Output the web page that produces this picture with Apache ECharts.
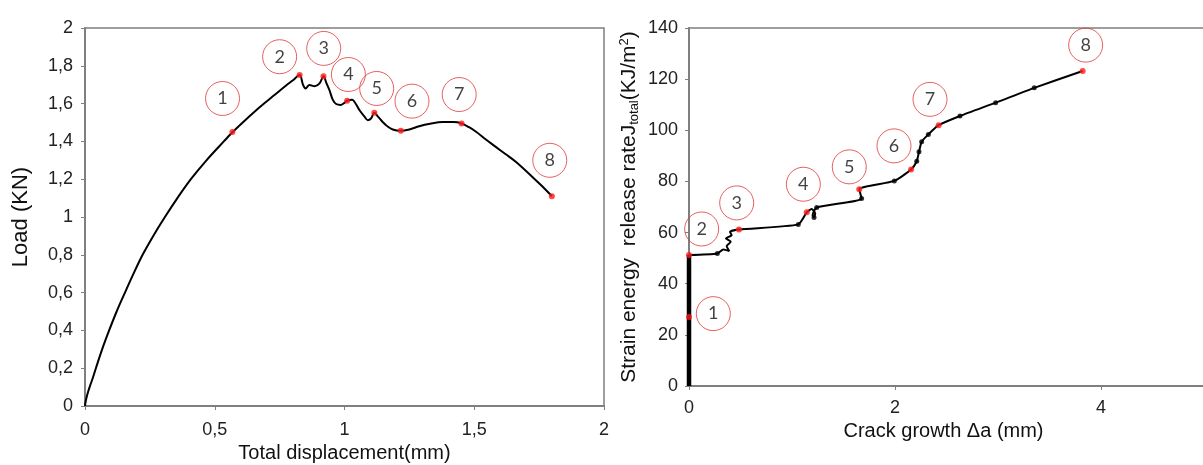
<!DOCTYPE html>
<html>
<head>
<meta charset="utf-8">
<script src="https://cdn.jsdelivr.net/npm/echarts@6/dist/echarts.min.js"></script>
<style>
html,body{margin:0;padding:0;background:#fff;}
#c{width:1203px;height:465px;}
</style>
</head>
<body>
<div id="c"></div>
<script>
// ---- Left chart: Load vs total displacement ----
const loadX = [0,0.002,0.006,0.012,0.019,0.028,0.042,0.066,0.093,0.122,0.154,0.187,0.222,0.263,0.308,0.356,0.408,0.468,0.535,0.568,0.61,0.65,0.69,0.73,0.776,0.80,0.827,0.840,0.850,0.865,0.885,0.904,0.919,0.930,0.942,0.955,0.968,0.985,1.0,1.010,1.03,1.045,1.058,1.075,1.090,1.102,1.115,1.13,1.147,1.165,1.186,1.215,1.25,1.288,1.33,1.378,1.42,1.451,1.48,1.507,1.545,1.583,1.62,1.660,1.724,1.76,1.799];
const loadY = [0,0.02,0.045,0.075,0.105,0.14,0.2,0.3,0.4,0.5,0.6,0.7,0.8,0.9,1.0,1.1,1.2,1.3,1.4,1.448,1.503,1.553,1.600,1.645,1.697,1.722,1.751,1.70,1.680,1.698,1.692,1.707,1.745,1.71,1.671,1.62,1.598,1.593,1.604,1.615,1.620,1.595,1.565,1.535,1.512,1.521,1.551,1.53,1.503,1.48,1.463,1.456,1.463,1.480,1.493,1.502,1.502,1.495,1.475,1.451,1.41,1.371,1.333,1.292,1.212,1.165,1.110];
const loadMarkX = [0.568,0.827,0.919,1.010,1.115,1.217,1.451,1.799];
const loadMarkY = [1.450,1.751,1.745,1.615,1.551,1.456,1.495,1.110];
const loadTagX = [0.53,0.75,0.92,1.015,1.124,1.26,1.442,1.791];
const loadTagY = [1.627,1.848,1.892,1.754,1.680,1.613,1.648,1.30];
const stageLabels = ['1','2','3','4','5','6','7','8'];

// ---- Right chart: J vs crack growth ----
const initX = [0,0];
const initY = [0,51.2];
const crackX = [0,0.275,0.333,0.391,0.366,0.405,0.359,0.414,0.398,0.485,1.061,1.143,1.19,1.225,1.214,1.20,1.24,1.676,1.653,1.993,2.156,2.211,2.233,2.259,2.324,2.424,2.631,2.977,3.352,3.822];
const jY     = [51.2,51.8,53.4,52.8,54.7,56.4,57.7,59.0,60.3,61.2,63.2,67.9,69.2,67.5,65.9,66.8,69.8,73.3,76.9,80.2,84.7,87.9,91.6,95.5,98.4,102.0,105.6,110.8,116.6,123.2];
const dotX = [0.275,1.061,1.214,1.24,1.676,1.993,2.211,2.233,2.259,2.324,2.631,2.977,3.352];
const dotY = [51.8,63.2,65.9,69.8,73.3,80.2,87.9,91.6,95.5,98.4,105.6,110.8,116.6];
const jMarkX = [0,0,0.485,1.143,1.653,2.156,2.424,3.822];
const jMarkY = [27.0,51.2,61.2,67.9,76.9,84.7,102.0,123.2];
const jTagX = [0.236,0.123,0.463,1.110,1.556,1.990,2.340,3.851];
const jTagY = [28.3,61.4,71.6,78.9,85.7,93.9,112.1,133.3];

const zip = (a, b) => a.map((v, i) => [v, b[i]]);
const tagData = (a, b) => a.map((v, i) => ({value: [v, b[i]], name: stageLabels[i]}));

const axisColor = '#7f7f7f';
const labelFont = 'Liberation Sans, Arial, sans-serif';
const tickLabel = {color: '#222', fontSize: 18, fontFamily: labelFont};
const comma = v => String(v).replace('.', ',');

function tagSeries(xi, yi, data) {
  return {
    type: 'scatter', xAxisIndex: xi, yAxisIndex: yi, data: data, clip: false, z: 5,
    symbol: 'circle', symbolSize: 34,
    itemStyle: {color: 'rgba(255,255,255,0)', borderColor: '#e0383a', borderWidth: 1},
    label: {show: true, position: 'inside', formatter: p => p.name, color: '#111', fontSize: 18, fontFamily: 'Lato, Noto Sans, sans-serif'},
    emphasis: {disabled: true}
  };
}

const chart = echarts.init(document.getElementById('c'), null, {renderer: 'canvas'});
chart.setOption({
  animation: false,
  backgroundColor: '#fff',
  grid: [
    {left: 85, top: 28, width: 519, height: 378, containLabel: false, outerBoundsMode: 'none', show: true, borderColor: axisColor, borderWidth: 1.5, backgroundColor: 'transparent'},
    {left: 689, top: 28, width: 515, height: 358, containLabel: false, outerBoundsMode: 'none', show: true, borderColor: axisColor, borderWidth: 1.5, backgroundColor: 'transparent'}
  ],
  xAxis: [
    {gridIndex: 0, type: 'value', min: 0, max: 2, interval: 0.5,
     axisLine: {lineStyle: {color: axisColor, width: 2}}, axisTick: {show: true, length: 4, lineStyle: {color: axisColor}},
     splitLine: {show: false}, axisLabel: Object.assign({margin: 15, formatter: comma}, tickLabel),
     name: 'Total displacement(mm)', nameLocation: 'middle', nameGap: 37,
     nameTextStyle: {color: '#111', fontSize: 20, fontFamily: labelFont}},
    {gridIndex: 1, type: 'value', min: 0, max: 5, interval: 2,
     axisLine: {lineStyle: {color: axisColor, width: 2}}, axisTick: {show: true, length: 4, lineStyle: {color: axisColor}},
     splitLine: {show: false}, axisLabel: Object.assign({margin: 13, showMaxLabel: false}, tickLabel),
     name: 'Crack growth Δa (mm)', nameLocation: 'middle', nameGap: 34,
     nameTextStyle: {color: '#111', fontSize: 20, fontFamily: labelFont, padding: [0, 6, 0, 0]}}
  ],
  yAxis: [
    {gridIndex: 0, type: 'value', min: 0, max: 2, interval: 0.2,
     axisLine: {show: true, lineStyle: {color: axisColor, width: 2}}, axisTick: {show: true, length: 4, lineStyle: {color: axisColor}},
     splitLine: {show: false}, axisLabel: Object.assign({margin: 12, formatter: comma}, tickLabel),
     name: 'Load (KN)', nameLocation: 'middle', nameGap: 53, nameRotate: 90,
     nameTextStyle: {color: '#111', fontSize: 22, fontFamily: labelFont}},
    {gridIndex: 1, type: 'value', min: 0, max: 140, interval: 20,
     axisLine: {show: true, lineStyle: {color: axisColor, width: 2}}, axisTick: {show: true, length: 4, lineStyle: {color: axisColor}},
     splitLine: {show: false}, axisLabel: Object.assign({margin: 11}, tickLabel),
     name: '{m|Strain energy  release rateJ}{s|total}{m|(KJ/m}{p|2}{m|)}', nameLocation: 'middle', nameGap: 46, nameRotate: 90,
     nameTextStyle: {color: '#111', fontSize: 21, fontFamily: labelFont, lineHeight: 27,
       rich: {
         m: {fontSize: 21, fontFamily: labelFont, color: '#111', lineHeight: 27, verticalAlign: 'middle'},
         s: {fontSize: 13, fontFamily: labelFont, color: '#111', lineHeight: 27, verticalAlign: 'bottom', padding: [0, 0, 2, 0]},
         p: {fontSize: 13, fontFamily: labelFont, color: '#111', lineHeight: 27, verticalAlign: 'top', padding: [2, 0, 0, 0]}
       }}}
  ],
  series: [
    {type: 'line', xAxisIndex: 0, yAxisIndex: 0, data: zip(loadX, loadY), symbol: 'none', smooth: 0.35,
     lineStyle: {color: '#000', width: 2}},
    {type: 'scatter', xAxisIndex: 0, yAxisIndex: 0, data: zip(loadMarkX, loadMarkY), symbolSize: 6, z: 4,
     itemStyle: {color: '#ff1a1a'}},
    tagSeries(0, 0, tagData(loadTagX, loadTagY)),
    {type: 'line', xAxisIndex: 1, yAxisIndex: 1, data: zip(initX, initY), symbol: 'none', clip: false,
     lineStyle: {color: '#000', width: 4.5}},
    {type: 'line', xAxisIndex: 1, yAxisIndex: 1, data: zip(crackX, jY), symbol: 'none', smooth: 0.2,
     lineStyle: {color: '#000', width: 2}},
    {type: 'scatter', xAxisIndex: 1, yAxisIndex: 1, data: zip(dotX, dotY), symbolSize: 5, z: 3,
     itemStyle: {color: '#000'}},
    {type: 'scatter', xAxisIndex: 1, yAxisIndex: 1, data: zip(jMarkX, jMarkY), symbolSize: 6, z: 4, clip: false,
     itemStyle: {color: '#ff1a1a'}},
    tagSeries(1, 1, tagData(jTagX, jTagY))
  ]
});
</script>
</body>
</html>
